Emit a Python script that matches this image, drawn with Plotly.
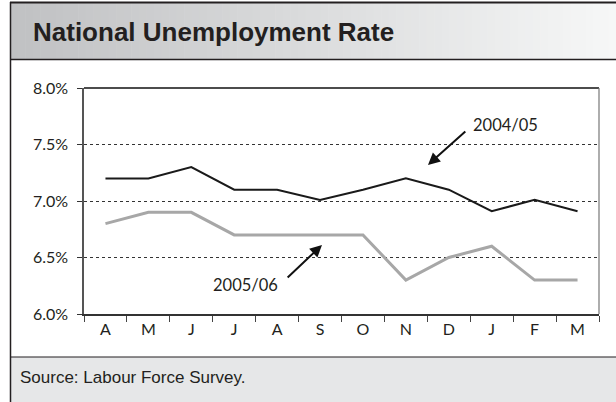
import plotly.graph_objects as go

# Monthly national unemployment rate (%), April to March
months = ["A", "M", "J", "J", "A", "S", "O", "N", "D", "J", "F", "M"]
rate_2004_05 = [7.2, 7.2, 7.3, 7.1, 7.1, 7.01, 7.1, 7.2, 7.1, 6.91, 7.01, 6.91]
rate_2005_06 = [6.8, 6.9, 6.9, 6.7, 6.7, 6.7, 6.7, 6.3, 6.5, 6.6, 6.3, 6.3]
y_ticks = [6.0, 6.5, 7.0, 7.5, 8.0]

W, H = 616, 402
PL, PR, PT, PB = 84, 599, 88, 314  # plot area in pixels


def px_x(p):
    return (p - PL) / (PR - PL)


def px_y(p):
    return (PB - p) / (PB - PT)


xs = list(range(len(months)))

fig = go.Figure()
fig.add_trace(go.Scatter(x=xs, y=rate_2005_06, mode="lines",
                         line=dict(color="#a7a7a7", width=3), name="2005/06"))
fig.add_trace(go.Scatter(x=xs, y=rate_2004_05, mode="lines",
                         line=dict(color="#1a1a1a", width=2), name="2004/05"))

shapes = []
# header band with a horizontal grey gradient
n = 80
x0, x1 = 10, W
c0, c1 = (192, 193, 195), (246, 247, 247)
for i in range(n):
    a = x0 + (x1 - x0) * i / n
    b = x0 + (x1 - x0) * (i + 1) / n + 0.6
    t = i / (n - 1)
    col = "rgb(%d,%d,%d)" % tuple(round(c0[k] + (c1[k] - c0[k]) * t) for k in range(3))
    shapes.append(dict(type="rect", xref="paper", yref="paper",
                       x0=px_x(a), x1=px_x(b), y0=px_y(59.5), y1=px_y(2.5),
                       fillcolor=col, line=dict(width=0), layer="below"))
# header outline
shapes.append(dict(type="line", xref="paper", yref="paper", x0=px_x(10), x1=px_x(W + 5),
                   y0=px_y(2.5), y1=px_y(2.5), line=dict(color="#231f20", width=2)))
shapes.append(dict(type="line", xref="paper", yref="paper", x0=px_x(10), x1=px_x(W + 5),
                   y0=px_y(59.5), y1=px_y(59.5), line=dict(color="#231f20", width=1.5)))
# footer band
shapes.append(dict(type="rect", xref="paper", yref="paper", x0=px_x(10), x1=px_x(W + 5),
                   y0=px_y(H + 5), y1=px_y(357), fillcolor="#e6e7e8",
                   line=dict(width=0), layer="below"))
shapes.append(dict(type="line", xref="paper", yref="paper", x0=px_x(10), x1=px_x(W + 5),
                   y0=px_y(357), y1=px_y(357), line=dict(color="#231f20", width=1.2)))
# left border of the panel
shapes.append(dict(type="line", xref="paper", yref="paper", x0=px_x(10.5), x1=px_x(10.5),
                   y0=px_y(2), y1=px_y(H + 5), line=dict(color="#231f20", width=1.5)))
# plot frame: top black, right grey
shapes.append(dict(type="line", xref="paper", yref="paper", x0=0, x1=1, y0=1, y1=1,
                   line=dict(color="#111", width=1.5)))
shapes.append(dict(type="line", xref="paper", yref="paper", x0=1, x1=1, y0=0, y1=1,
                   line=dict(color="#777", width=1.2)))

annotations = [
    dict(xref="paper", yref="paper", x=px_x(31), y=px_y(31.5), xanchor="left", yanchor="middle",
         text="<b>National Unemployment Rate</b>", showarrow=False,
         font=dict(family="Liberation Sans, Arial", size=26, color="#231f20")),
    dict(xref="paper", yref="paper", x=px_x(18), y=px_y(377), xanchor="left", yanchor="middle",
         text="Source: Labour Force Survey.", showarrow=False,
         font=dict(family="Liberation Sans, Arial", size=17, color="#231f20")),
    # series labels with arrows
    dict(x=9.33, y=7.67, text="2004/05", showarrow=False,
         font=dict(family="Lato", size=16.5, color="#231f20")),
    dict(x=7.515, y=7.319, ax=8.42, ay=7.628, axref="x", ayref="y", text="",
         showarrow=True, arrowhead=2, arrowsize=1.2, arrowwidth=2, arrowcolor="#111"),
    dict(x=3.27, y=6.257, text="2005/06", showarrow=False,
         font=dict(family="Lato", size=16.5, color="#231f20")),
    dict(x=5.045, y=6.611, ax=4.21, ay=6.31, axref="x", ayref="y", text="",
         showarrow=True, arrowhead=2, arrowsize=1.2, arrowwidth=2, arrowcolor="#111"),
]

fig.update_layout(
    width=W, height=H,
    margin=dict(l=PL, r=W - PR, t=PT, b=H - PB),
    paper_bgcolor="white", plot_bgcolor="white",
    showlegend=False,
    shapes=shapes, annotations=annotations,
    font=dict(family="Lato", size=16, color="#231f20"),
)
fig.update_xaxes(
    range=[-0.5, len(months) - 0.5],
    tickmode="array", tickvals=xs, ticktext=months, ticks="",
    showgrid=False, zeroline=False,
    showline=True, linecolor="#333", linewidth=1.5,
    tickfont=dict(family="Lato", size=16, color="#231f20"),
    minor=dict(tickmode="array", tickvals=[i - 0.5 for i in range(len(months) + 1)],
               ticks="outside", ticklen=6, tickcolor="#444", tickwidth=1, showgrid=False),
)
fig.update_yaxes(
    range=[6.0, 8.0], tickmode="array", tickvals=y_ticks,
    ticktext=["%.1f%%" % v for v in y_ticks],
    ticks="outside", ticklen=5, tickcolor="#333",
    showgrid=True, gridcolor="#333", griddash="dot", gridwidth=1,
    zeroline=False, showline=True, linecolor="#555", linewidth=1.5,
    tickfont=dict(family="Lato", size=16, color="#231f20"),
    ticklabelstandoff=6,
)

fig.write_html("out.html")
